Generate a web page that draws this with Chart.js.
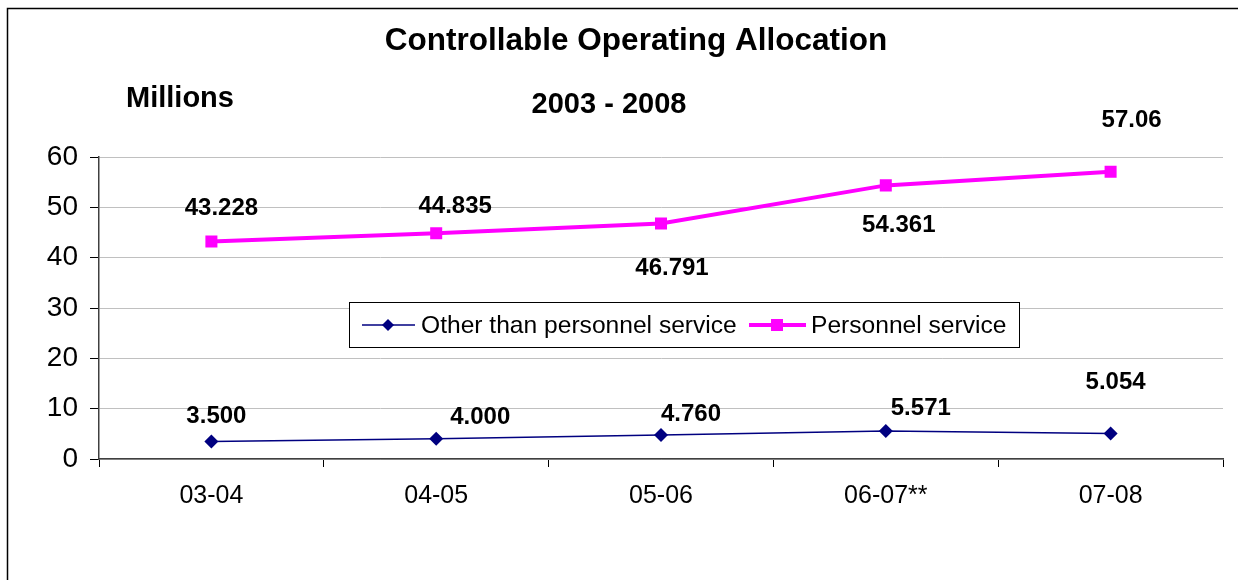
<!DOCTYPE html>
<html>
<head>
<meta charset="utf-8">
<title>Controllable Operating Allocation</title>
<script src="https://cdn.jsdelivr.net/npm/chart.js@4.4.1/dist/chart.umd.min.js"></script>
<style>
  html, body { margin: 0; padding: 0; background: #fff; }
  #wrap { width: 1238px; height: 580px; position: relative; }
</style>
</head>
<body>
<div id="wrap"><canvas id="myChart"></canvas></div>
<script>
const FONT = "'Liberation Sans', Arial, sans-serif";

// data
const years = ['03-04', '04-05', '05-06', '06-07**', '07-08'];
const otherThanPersonnel = [3.5, 4.0, 4.76, 5.571, 5.054];
const personnel = [43.228, 44.835, 46.791, 54.361, 57.06];
const yTicks = [0, 10, 20, 30, 40, 50, 60];

// where each value label sits relative to its point (px)
const otherLabelOffsets = [[5, -25], [44, -21], [30, -21], [35, -23], [5, -51]];
const personnelLabelOffsets = [[10, -33], [19, -27], [11, 45], [13, 40], [21, -51]];

const NAVY = '#000080';
const MAGENTA = '#ff00ff';

const decorations = {
    id: 'decorations',
    afterDraw(chart) {
        const c = chart.ctx;
        c.save();

        // outer frame (top and left only, rest is cut off)
        c.strokeStyle = '#000';
        c.lineWidth = 1.5;
        c.beginPath();
        c.moveTo(7.5, 580);
        c.lineTo(7.5, 8.5);
        c.lineTo(1238, 8.5);
        c.stroke();

        // titles
        c.fillStyle = '#000';
        c.textBaseline = 'alphabetic';
        c.textAlign = 'center';
        c.font = 'bold 31.5px ' + FONT;
        c.fillText('Controllable Operating Allocation', 636, 50);
        c.font = 'bold 29px ' + FONT;
        c.fillText('2003 - 2008', 609, 113);
        c.textAlign = 'left';
        c.fillText('Millions', 126, 107);

        // value labels
        c.font = 'bold 24px ' + FONT;
        c.textAlign = 'center';
        c.textBaseline = 'middle';
        const drawLabels = (dsIndex, values, offsets, fmt) => {
            const meta = chart.getDatasetMeta(dsIndex);
            meta.data.forEach((pt, i) => {
                c.fillText(fmt(values[i]), pt.x + offsets[i][0], pt.y + offsets[i][1]);
            });
        };
        drawLabels(0, otherThanPersonnel, otherLabelOffsets, v => v.toFixed(3));
        drawLabels(1, personnel, personnelLabelOffsets, v => String(v));

        // legend box inside the plot
        const bx = 349.5, by = 302.5, bw = 670, bh = 45;
        c.fillStyle = '#fff';
        c.fillRect(bx, by, bw, bh);
        c.strokeStyle = '#000';
        c.lineWidth = 1;
        c.strokeRect(bx, by, bw, bh);
        const my = by + bh / 2;

        c.strokeStyle = NAVY;
        c.lineWidth = 1.5;
        c.beginPath();
        c.moveTo(362, my);
        c.lineTo(415, my);
        c.stroke();
        c.fillStyle = NAVY;
        c.beginPath();
        c.moveTo(388, my - 6);
        c.lineTo(394, my);
        c.lineTo(388, my + 6);
        c.lineTo(382, my);
        c.closePath();
        c.fill();

        c.strokeStyle = MAGENTA;
        c.lineWidth = 4;
        c.beginPath();
        c.moveTo(749, my);
        c.lineTo(806, my);
        c.stroke();
        c.fillStyle = MAGENTA;
        c.fillRect(771, my - 6, 12, 12);

        c.fillStyle = '#000';
        c.font = '24.6px ' + FONT;
        c.textAlign = 'left';
        c.textBaseline = 'middle';
        c.fillText('Other than personnel service', 421, my + 1);
        c.fillText('Personnel service', 811, my + 1);

        c.restore();
    }
};

const ctx = document.getElementById('myChart').getContext('2d');
const myChart = new Chart(ctx, {
    type: 'line',
    data: {
        labels: years,
        datasets: [{
            label: 'Other than personnel service',
            data: otherThanPersonnel,
            borderColor: NAVY,
            backgroundColor: NAVY,
            borderWidth: 1.5,
            pointStyle: 'rectRot',
            pointRadius: 7,
            pointBorderWidth: 0,
            tension: 0
        }, {
            label: 'Personnel service',
            data: personnel,
            borderColor: MAGENTA,
            backgroundColor: MAGENTA,
            borderWidth: 4,
            pointStyle: 'rect',
            pointRadius: 8.5,
            pointBorderWidth: 0,
            tension: 0
        }]
    },
    options: {
        responsive: true,
        maintainAspectRatio: false,
        animation: false,
        layout: { padding: { left: 0, top: 157, right: 15, bottom: 0 } },
        plugins: {
            legend: { display: false },
            title: { display: false },
            tooltip: { enabled: false }
        },
        scales: {
            x: {
                offset: true,
                grid: {
                    offset: true,
                    drawOnChartArea: false,
                    drawTicks: true,
                    tickLength: 8,
                    tickColor: '#000'
                },
                border: { color: '#404040', width: 1.5 },
                ticks: {
                    color: '#000',
                    font: { family: FONT, size: 25 },
                    padding: 14,
                    maxRotation: 0
                },
                afterFit: s => { s.height = 121; }
            },
            y: {
                min: 0,
                max: 60,
                afterBuildTicks: s => { s.ticks = yTicks.map(v => ({ value: v })); },
                grid: {
                    color: '#c0c0c0',
                    tickColor: '#000',
                    tickLength: 9
                },
                border: { color: '#404040', width: 1.5 },
                ticks: {
                    color: '#000',
                    font: { family: FONT, size: 28 },
                    padding: 12
                },
                afterFit: s => { s.width = 99; }
            }
        }
    },
    plugins: [decorations]
});
</script>
</body>
</html>
